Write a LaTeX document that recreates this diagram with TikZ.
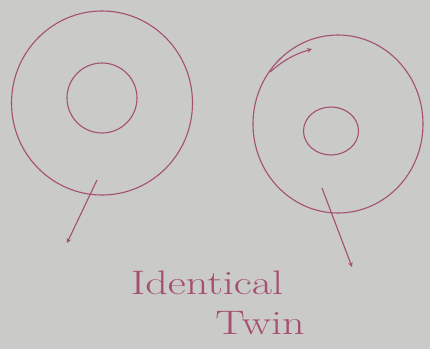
\documentclass[tikz,border=0pt]{standalone}
\usetikzlibrary{shapes.geometric}
\definecolor{ink}{RGB}{165,80,110}
\definecolor{paper}{RGB}{202,202,200}
\begin{document}
\begin{tikzpicture}[
  x=1pt, y=-1pt,
  every node/.style={ellipse,draw=ink,line width=1.1pt,inner sep=0pt},
  ->, >=stealth, draw=ink, line width=1.1pt
]
  \fill[paper,draw=none] (0,0) rectangle (430,349);
  % left cell
  \node[minimum width=181pt,minimum height=184pt] (o1) at (102,103) {};
  \node[minimum width=70pt,minimum height=70pt]   (i1) at (102,98)  {};
  % right cell
  \node[minimum width=170pt,minimum height=178pt] (o2) at (338,124) {};
  \node[minimum width=55pt,minimum height=48pt]   (i2) at (331,131) {};

  \coordinate (a1) at (97,180);
  \coordinate (b1) at (67,243);
  \coordinate (a2) at (322,188);
  \coordinate (b2) at (352,267);
  \coordinate (a3) at (270,72);
  \coordinate (b3) at (312,49);

  \draw (a1)--(b1);
  \draw (a2)--(b2);
  \draw (a3) to[bend left=12] (b3);

  \node[draw=none,rectangle,text=ink,xscale=1.3,font=\fontsize{34}{34}\selectfont] (t1) at (207,283) {Identical};
  \node[draw=none,rectangle,text=ink,xscale=1.3,font=\fontsize{34}{34}\selectfont] (t2) at (260,323) {Twin};
\end{tikzpicture}
\end{document}
